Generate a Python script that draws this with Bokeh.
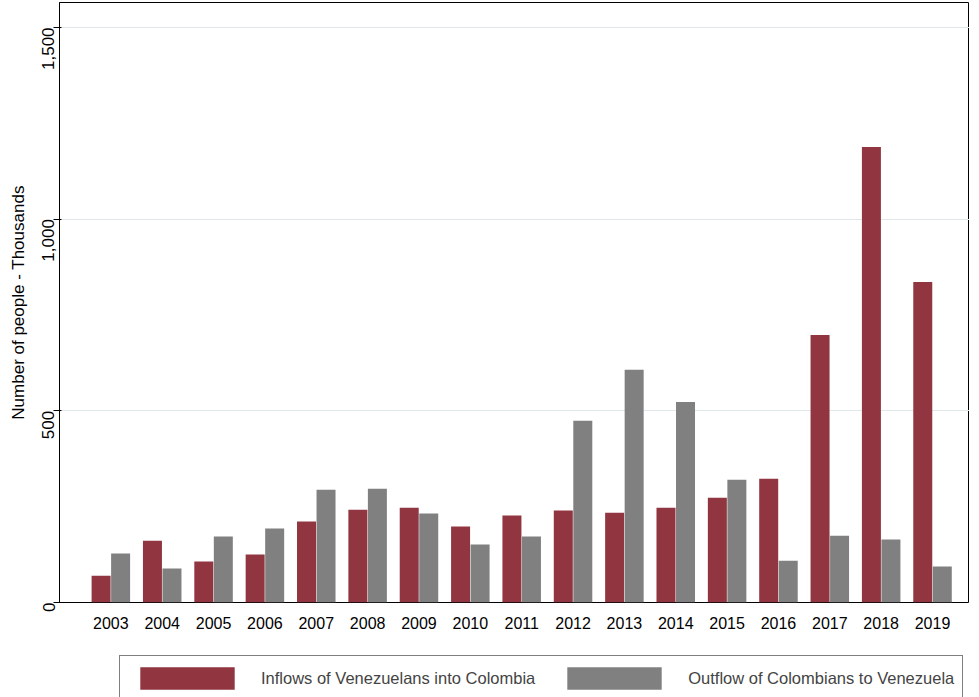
from math import pi
from bokeh.plotting import figure
from bokeh.models import ColumnDataSource, NumeralTickFormatter, Legend, LegendItem, Range1d
from bokeh.layouts import column
from bokeh.transform import dodge
from bokeh.embed import file_html
from bokeh.resources import INLINE

years = list(range(2003, 2020))
inflows = [70, 161, 107, 125, 211, 242, 247, 198, 227, 240, 234, 247, 273, 323, 698, 1188, 836]
outflows = [128, 89, 172, 193, 294, 297, 232, 151, 172, 474, 607, 523, 320, 109, 174, 164, 94]
labels = ["Inflows of Venezuelans into Colombia", "Outflow of Colombians to Venezuela"]
red, grey = "#913640", "#808080"

src = ColumnDataSource(dict(year=years, inflows=inflows, outflows=outflows))

p = figure(frame_width=910, frame_height=600, output_backend="svg", toolbar_location=None,
           x_range=Range1d(2002.0, 2019.72), y_range=Range1d(0, 1565),
           min_border_left=59, min_border_right=0, min_border_top=2, min_border_bottom=0)
p.vbar(x=dodge("year", -0.19), top="inflows", width=0.37, source=src, color=red, line_color=None)
p.vbar(x=dodge("year", 0.19), top="outflows", width=0.37, source=src, color=grey, line_color=None)

p.outline_line_color = "black"
p.xgrid.grid_line_color = None
p.ygrid.grid_line_color = "#dfe9ec"
p.xaxis.ticker = years
p.xaxis.axis_line_color = None
p.xaxis.major_tick_line_color = None
p.xaxis.minor_tick_line_color = None
p.xaxis.major_label_text_font_size = "16px"
p.xaxis.major_label_text_color = "black"
p.xaxis.major_label_standoff = 8
p.yaxis.ticker = [0, 500, 1000, 1500]
p.yaxis.formatter = NumeralTickFormatter(format="0,0")
p.yaxis.major_label_orientation = pi / 2
p.yaxis.major_label_text_font_size = "17px"
p.yaxis.major_label_text_color = "black"
p.yaxis.minor_tick_line_color = None
p.yaxis.axis_line_color = "black"
p.yaxis.axis_label = "Number of people - Thousands"
p.yaxis.axis_label_text_font_style = "normal"
p.yaxis.axis_label_text_font_size = "17px"
p.yaxis.axis_label_text_color = "black"
p.yaxis.axis_label_standoff = 6
for ax in (p.xaxis, p.yaxis):
    ax.major_label_text_font = "Liberation Sans"
    ax.axis_label_text_font = "Liberation Sans"

# legend in its own strip below the chart
lg = figure(width=969, height=58, output_backend="svg", toolbar_location=None,
            x_range=Range1d(0, 1), y_range=Range1d(0, 1), min_border=0)
lg.axis.visible = False
lg.grid.visible = False
lg.outline_line_color = None
d1 = lg.vbar(x=[5], top=[1], width=0.1, color=red, line_color=None)
d2 = lg.vbar(x=[5], top=[1], width=0.1, color=grey, line_color=None)
legend = Legend(items=[LegendItem(label=labels[0], renderers=[d1]),
                       LegendItem(label=labels[1], renderers=[d2])],
                orientation="horizontal", location="top_left", margin=0,
                glyph_width=118, glyph_height=28, spacing=20, padding=8,
                label_standoff=15, label_text_font="Liberation Sans",
                label_text_font_size="16.5px", border_line_color="black",
                label_height=28)
lg.add_layout(legend)
legend.location = (60, 0)

open("out.html", "w").write(file_html(column(p, lg, spacing=12), INLINE))
